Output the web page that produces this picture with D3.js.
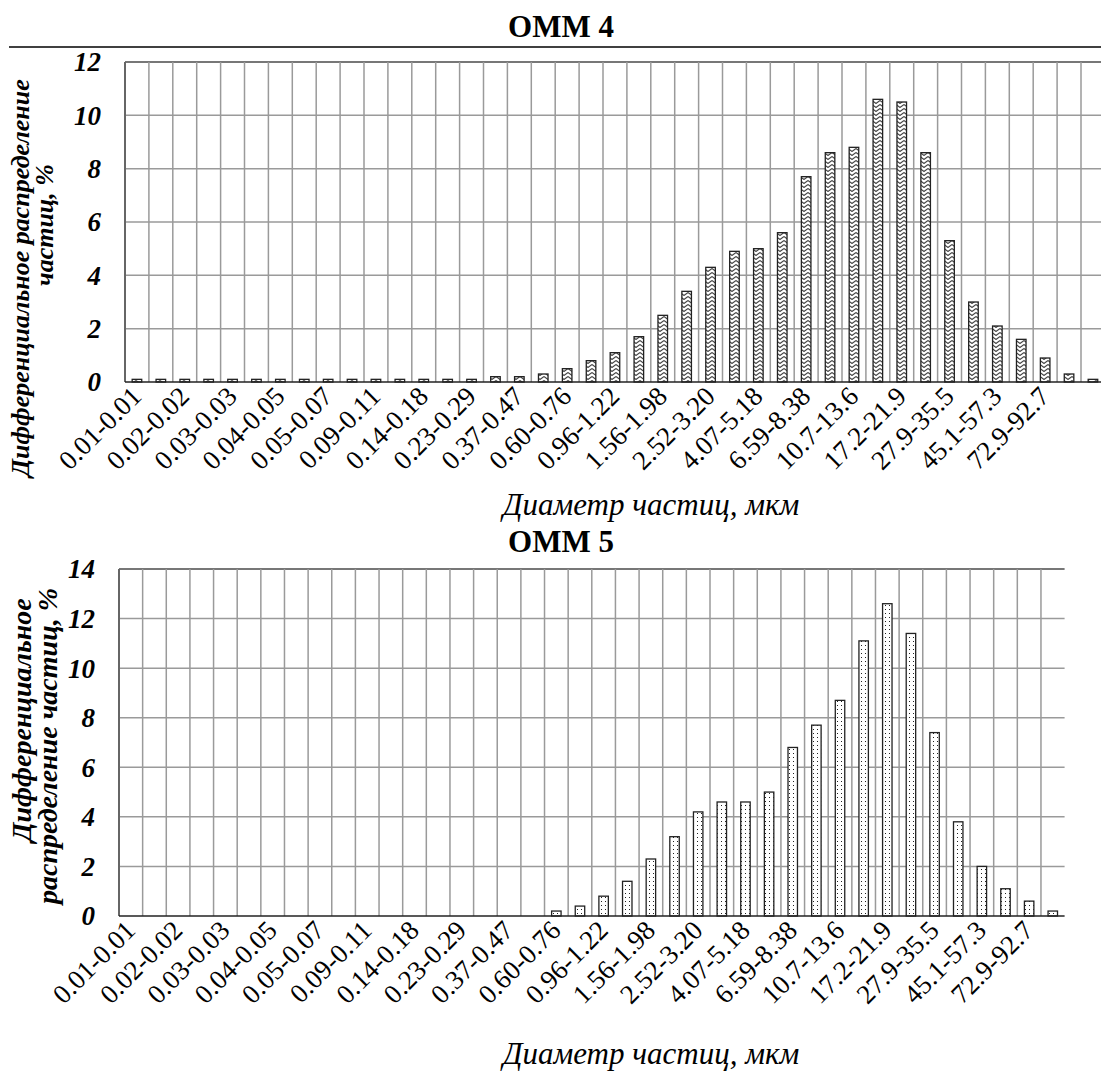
<!DOCTYPE html>
<html>
<head>
<meta charset="utf-8">
<script src="https://cdn.jsdelivr.net/npm/d3@7"></script>
<style>
  body { margin: 0; background: #fff; }
  svg { display: block; font-family: "Liberation Serif", "DejaVu Serif", serif; }
</style>
</head>
<body>
<div id="chart"></div>
<script>
// size bins (only every other label is shown on the axis)
const bins = [
  "0.01-0.01", "0.01-0.02", "0.02-0.02", "0.02-0.03", "0.03-0.03", "0.03-0.04",
  "0.04-0.05", "0.05-0.05", "0.05-0.07", "0.07-0.09", "0.09-0.11", "0.11-0.14",
  "0.14-0.18", "0.18-0.23", "0.23-0.29", "0.29-0.37", "0.37-0.47", "0.47-0.60",
  "0.60-0.76", "0.76-0.96", "0.96-1.22", "1.22-1.56", "1.56-1.98", "1.98-2.52",
  "2.52-3.20", "3.20-4.07", "4.07-5.18", "5.18-6.59", "6.59-8.38", "8.38-10.7",
  "10.7-13.6", "13.6-17.2", "17.2-21.9", "21.9-27.9", "27.9-35.5", "35.5-45.1",
  "45.1-57.3", "57.3-72.9", "72.9-92.7", "92.7-118", "118-150"
];

// ОММ 4, differential distribution, %
const omm4 = [
  0.1, 0.1, 0.1, 0.1, 0.1, 0.1, 0.1, 0.1, 0.1, 0.1, 0.1, 0.1, 0.1, 0.1, 0.1,
  0.2, 0.2, 0.3, 0.5, 0.8, 1.1, 1.7, 2.5, 3.4, 4.3, 4.9, 5.0, 5.6, 7.7, 8.6,
  8.8, 10.6, 10.5, 8.6, 5.3, 3.0, 2.1, 1.6, 0.9, 0.3, 0.1
];

// ОММ 5, differential distribution, %
const omm5 = [
  0, 0, 0, 0, 0, 0, 0, 0, 0, 0, 0, 0, 0, 0, 0, 0, 0, 0,
  0.2, 0.4, 0.8, 1.4, 2.3, 3.2, 4.2, 4.6, 4.6, 5.0, 6.8, 7.7, 8.7, 11.1,
  12.6, 11.4, 7.4, 3.8, 2.0, 1.1, 0.6, 0.2
];

const width = 1101, height = 1075;

const svg = d3.select("#chart").append("svg")
  .attr("width", width)
  .attr("height", height);

// fill patterns
const defs = svg.append("defs");
const zig = defs.append("pattern")
  .attr("id", "zigzag")
  .attr("patternUnits", "userSpaceOnUse")
  .attr("width", 8).attr("height", 4);
zig.append("rect").attr("width", 8).attr("height", 4).attr("fill", "#fff");
zig.append("path").attr("d", "M0,0.5 L4,3.5 L8,0.5")
  .attr("fill", "none").attr("stroke", "#444").attr("stroke-width", 1.1);

const dots = defs.append("pattern")
  .attr("id", "dots")
  .attr("patternUnits", "userSpaceOnUse")
  .attr("width", 4).attr("height", 4);
dots.append("rect").attr("width", 4).attr("height", 4).attr("fill", "#fff");
dots.append("rect").attr("x", 1).attr("y", 1).attr("width", 1).attr("height", 1).attr("fill", "#222");

function drawChart(cfg) {
  const cats = bins.slice(0, cfg.values.length);
  const x = d3.scaleBand()
    .domain(cats)
    .range([cfg.left, cfg.left + cfg.step * cats.length])
    .paddingInner(0).paddingOuter(0);
  const y = d3.scaleLinear()
    .domain([0, cfg.max])
    .range([cfg.bottom, cfg.top]);

  const g = svg.append("g");

  // horizontal grid
  g.append("g").selectAll("line")
    .data(d3.range(2, cfg.max + 1, 2))
    .join("line")
    .attr("x1", x.range()[0]).attr("x2", x.range()[1])
    .attr("y1", d => y(d)).attr("y2", d => y(d))
    .attr("stroke", d => d === cfg.max ? "#777" : "#9a9a9a")
    .attr("stroke-width", d => d === cfg.max ? 2 : 1.5);

  // vertical grid at each bin boundary
  g.append("g").selectAll("line")
    .data(cats.slice(1))
    .join("line")
    .attr("x1", d => x(d)).attr("x2", d => x(d))
    .attr("y1", y(cfg.max)).attr("y2", y(0))
    .attr("stroke", "#9a9a9a").attr("stroke-width", 1.5);

  // left border
  g.append("line")
    .attr("x1", x.range()[0]).attr("x2", x.range()[0])
    .attr("y1", y(cfg.max)).attr("y2", y(0))
    .attr("stroke", "#666").attr("stroke-width", 2);

  // bars
  const bw = x.bandwidth() * 0.4;
  g.append("g").selectAll("rect")
    .data(cfg.values.map((v, i) => ({ cat: cats[i], v })).filter(d => d.v > 0))
    .join("rect")
    .attr("x", d => x(d.cat) + (x.bandwidth() - bw) / 2)
    .attr("y", d => y(d.v))
    .attr("width", bw)
    .attr("height", d => y(0) - y(d.v))
    .attr("fill", `url(#${cfg.pattern})`)
    .attr("stroke", "#222")
    .attr("stroke-width", 1.3);

  // baseline
  g.append("line")
    .attr("x1", x.range()[0]).attr("x2", x.range()[1])
    .attr("y1", y(0)).attr("y2", y(0))
    .attr("stroke", "#222").attr("stroke-width", 1.5);

  // y tick labels
  g.append("g").selectAll("text")
    .data(d3.range(0, cfg.max + 1, 2))
    .join("text")
    .attr("x", cfg.left - cfg.tickGap)
    .attr("y", d => y(d))
    .attr("dy", "0.35em")
    .attr("text-anchor", "end")
    .attr("font-size", 27)
    .attr("font-weight", "bold")
    .attr("font-style", "italic")
    .text(d => d);

  // x tick labels, every other bin
  g.append("g").selectAll("text")
    .data(cats.filter((d, i) => i % 2 === 0 && i < 39))
    .join("text")
    .attr("transform", d => `translate(${x(d) + x.bandwidth() / 2 + 6},${y(0) + 16}) rotate(-45)`)
    .attr("text-anchor", "end")
    .attr("font-size", 27)
    .text(d => d);

  // titles
  g.append("text")
    .attr("x", 561).attr("y", cfg.titleY)
    .attr("text-anchor", "middle")
    .attr("font-size", 31)
    .attr("font-weight", "bold")
    .text(cfg.title);

  g.append("text")
    .attr("x", 651).attr("y", cfg.xTitleY)
    .attr("text-anchor", "middle")
    .attr("font-size", 31)
    .attr("font-style", "italic")
    .text("Диаметр частиц, мкм");

  cfg.yTitle.forEach((t, i) => {
    g.append("text")
      .attr("transform", `translate(${cfg.yTitleX[i]},${cfg.yTitleMid[i]}) rotate(-90)`)
      .attr("text-anchor", "middle")
      .attr("font-size", cfg.yTitleSize)
      .attr("font-weight", "bold")
      .attr("font-style", "italic")
      .text(t);
  });
}

// rule under the first title
svg.append("line")
  .attr("x1", 9).attr("x2", width)
  .attr("y1", 47).attr("y2", 47)
  .attr("stroke", "#000").attr("stroke-width", 1.5);

drawChart({
  values: omm4, max: 12, left: 125, step: 23.9, top: 62, bottom: 382,
  pattern: "zigzag", title: "ОММ 4", titleY: 37, xTitleY: 515, tickGap: 24,
  yTitle: ["Дифференциальное распределение", "частиц, %"],
  yTitleX: [29, 53], yTitleMid: [278, 225], yTitleSize: 26
});

drawChart({
  values: omm5, max: 14, left: 119, step: 23.64, top: 569, bottom: 916,
  pattern: "dots", title: "ОММ 5", titleY: 552, xTitleY: 1064, tickGap: 24,
  yTitle: ["Дифференциальное", "распределение частиц, %"],
  yTitleX: [31, 57], yTitleMid: [720, 746], yTitleSize: 28
});
</script>
</body>
</html>
